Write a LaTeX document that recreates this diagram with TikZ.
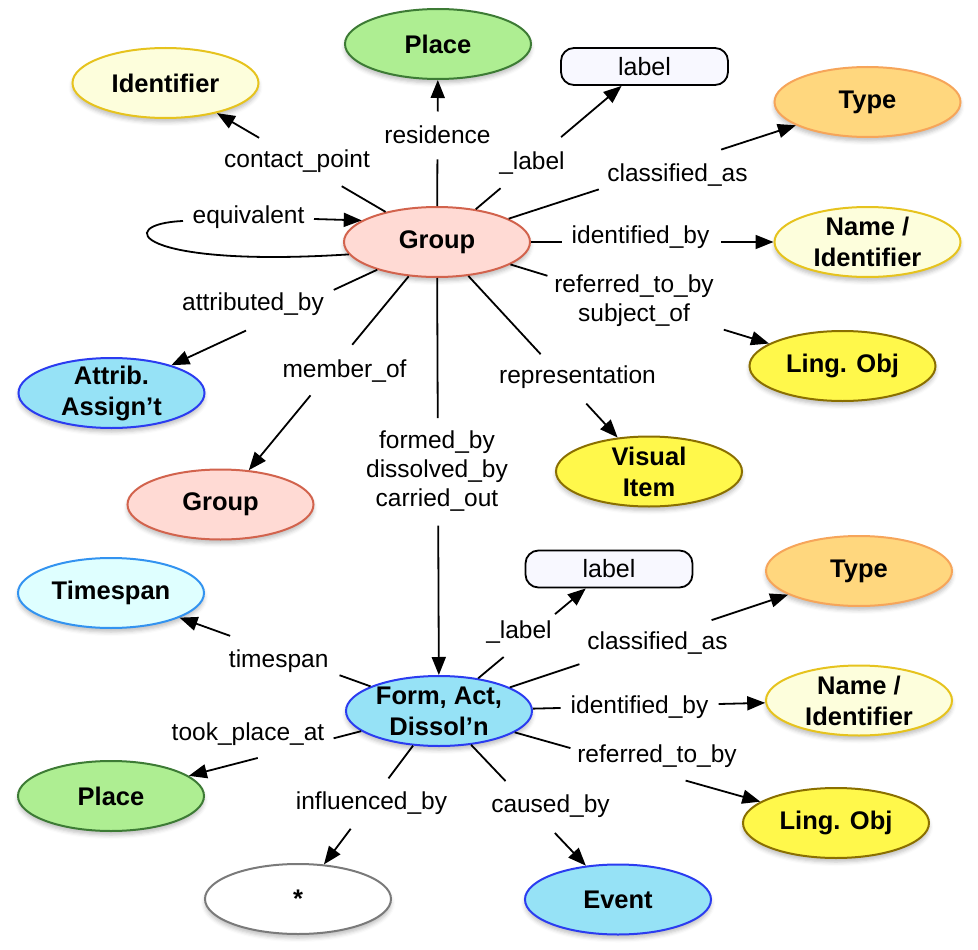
\documentclass[tikz,border=0pt]{standalone}
\usepackage{fontspec}
\setmainfont{Liberation Sans}
\usetikzlibrary{shapes.geometric,arrows.meta,shadows.blur}
\definecolor{identfill}{HTML}{FDFEDC}
\definecolor{identdraw}{HTML}{E6C31E}
\definecolor{placefill}{HTML}{AEEE92}
\definecolor{placedraw}{HTML}{3D7B35}
\definecolor{typefill}{HTML}{FFD77E}
\definecolor{typedraw}{HTML}{F6A55A}
\definecolor{groupfill}{HTML}{FFDAD4}
\definecolor{groupdraw}{HTML}{D2634D}
\definecolor{lingfill}{HTML}{FFF84B}
\definecolor{lingdraw}{HTML}{8A6F00}
\definecolor{bluefill}{HTML}{96E2F6}
\definecolor{bluedraw}{HTML}{2B3CF0}
\definecolor{tsfill}{HTML}{DFFFFF}
\definecolor{tsdraw}{HTML}{3393F0}
\definecolor{stardraw}{HTML}{7A7A7A}
\definecolor{boxfill}{HTML}{F8F8FF}
\tikzset{
  ell/.style={ellipse, minimum width=186pt, minimum height=70pt, inner sep=0pt, line width=2pt,
    blur shadow={shadow xshift=0pt, shadow yshift=-4pt, shadow blur radius=4pt, shadow opacity=25}},
  ntext/.style={font=\fontsize{25.5}{31}\selectfont\bfseries, align=center, inner sep=0pt},
  lbox/.style={rectangle, rounded corners=13pt, minimum width=167pt, minimum height=37pt, draw=black,
    line width=1.8pt, fill=boxfill, font=\fontsize{25}{30}\selectfont, inner sep=0pt},
  elab/.style={font=\fontsize{24.5}{29}\selectfont, inner sep=0pt, text height=18pt, text depth=5pt},
  elabm/.style={font=\fontsize{24.5}{29}\selectfont, inner sep=0pt, align=center},
  conn/.style={line width=1.8pt, draw=black},
  arr/.style={-{Triangle[length=18pt,width=14pt]}},
}
\newcommand\ellnode[5]{\node[ell, fill=#3, draw=#4, label={[ntext]center:{#5}}] (#1) at (#2) {};}
\newcommand\gapedge[4]{%
  \path (#1) -- coordinate[pos=#3] (#1-#2-a) coordinate[pos=#4] (#1-#2-b) (#2);
  \draw[conn] (#1) -- (#1-#2-a);
  \draw[conn,arr] (#1-#2-b) -- (#2);}
\begin{document}
\begin{tikzpicture}[x=1pt,y=-1pt]
\useasboundingbox (0,0) rectangle (978,950);
% upper cluster
\ellnode{g}{437,242}{groupfill}{groupdraw}{Group}
\ellnode{place1}{438,44}{placefill}{placedraw}{Place}
\ellnode{ident}{165.5,83}{identfill}{identdraw}{Identifier}
\node[lbox] (lab1) at (644.5,66.5) {label};
\ellnode{type1}{867.5,102}{typefill}{typedraw}{Type}
\ellnode{ni1}{867.5,242}{identfill}{identdraw}{Name /\\Identifier}
\ellnode{ling1}{842.5,366}{lingfill}{lingdraw}{Ling. Obj}
\ellnode{attr}{111.5,393}{bluefill}{bluedraw}{Attrib.\\Assign’t}
\ellnode{gtwo}{220.5,504.5}{groupfill}{groupdraw}{Group}
\ellnode{vis}{649,471.5}{lingfill}{lingdraw}{Visual\\Item}
% lower cluster
\ellnode{form}{439,711}{bluefill}{bluedraw}{Form, Act,\\Dissol’n}
\ellnode{ts}{111,593}{tsfill}{tsdraw}{Timespan}
\ellnode{place2}{111,796}{placefill}{placedraw}{Place}
\ellnode{star}{298,899}{white}{stardraw}{*}
\node[lbox] (lab2) at (609,569) {label};
\ellnode{type2}{859,571}{typefill}{typedraw}{Type}
\ellnode{ni2}{859,700.5}{identfill}{identdraw}{Name /\\Identifier}
\ellnode{ling2}{836,823}{lingfill}{lingdraw}{Ling. Obj}
\ellnode{event}{618,899.5}{bluefill}{bluedraw}{Event}
% edges from Group
\gapedge{g}{ident}{0.26}{0.75}
\gapedge{g}{place1}{0.37}{0.75}
\gapedge{g}{lab1}{0.17}{0.585}
\gapedge{g}{type1}{0.314}{0.74}
\gapedge{g}{ni1}{0.128}{0.785}
\gapedge{g}{ling1}{0.143}{0.825}
\gapedge{g}{vis}{0.484}{0.79}
\gapedge{g}{form}{0.353}{0.624}
\gapedge{g}{gtwo}{0.353}{0.614}
\gapedge{g}{attr}{0.211}{0.637}
% self loop
\coordinate (eqa) at (183,221);
\coordinate (eqb) at (314,219);
\draw[conn] (g.188) .. controls (135,268) and (112,224) .. (eqa);
\draw[conn,arr] (eqb) -- (g.164);
% edges from Form
\gapedge{form}{ts}{0.162}{0.735}
\gapedge{form}{place2}{0.16}{0.6}
\gapedge{form}{star}{0.276}{0.70}
\gapedge{form}{event}{0.30}{0.73}
\gapedge{form}{ling2}{0.227}{0.696}
\gapedge{form}{ni2}{0.12}{0.80}
\gapedge{form}{type2}{0.25}{0.725}
\gapedge{form}{lab2}{0.237}{0.714}
% edge labels
\node[elab] (lcp) at (297,160.5) {contact\_point};
\node[elab] (lres) at (437.5,137) {residence};
\node[elab] (llab1) at (532,162.5) {\_label};
\node[elab] (lca1) at (677.5,174.5) {classified\_as};
\node[elab] (lib1) at (640.5,236.5) {identified\_by};
\node[elabm] (lrt1) at (634,300.5) {referred\_to\_by\\subject\_of};
\node[elab] (lrep) at (577.5,376.5) {representation};
\node[elabm] (lfb) at (437,471.5) {formed\_by\\dissolved\_by\\carried\_out};
\node[elab] (lmo) at (344.5,370.5) {member\_of};
\node[elab] (lab) at (253,303.5) {attributed\_by};
\node[elab] (leq) at (248.5,216.5) {equivalent};
\node[elab] (lts) at (278.7,660.5) {timespan};
\node[elab] (ltpa) at (248,733.5) {took\_place\_at};
\node[elab] (linf) at (371.5,802.5) {influenced\_by};
\node[elab] (lcb) at (550.5,805.5) {caused\_by};
\node[elab] (lrt2) at (657,755.5) {referred\_to\_by};
\node[elab] (lib2) at (639.5,706.5) {identified\_by};
\node[elab] (lca2) at (657.5,642.5) {classified\_as};
\node[elab] (llab2) at (519,631.5) {\_label};
\end{tikzpicture}
\end{document}
